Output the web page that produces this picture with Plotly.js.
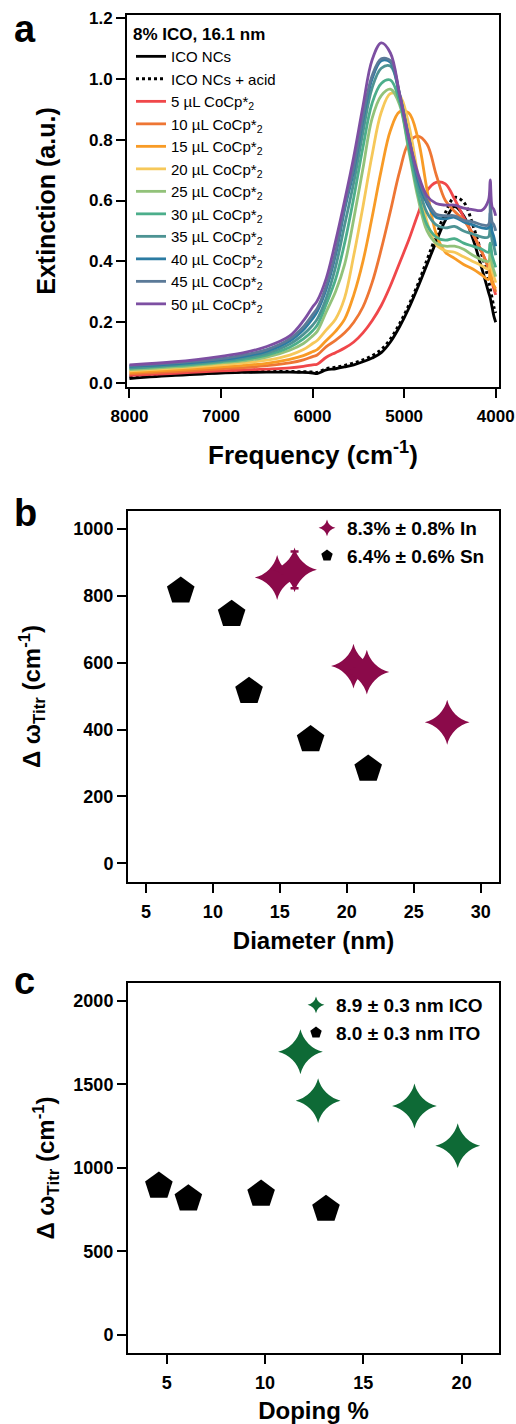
<!DOCTYPE html>
<html>
<head>
<meta charset="utf-8">
<script src="https://cdn.plot.ly/plotly-3.0.1.min.js"></script>
<style>html,body{margin:0;padding:0;background:#fff;}#chart{width:516px;height:1424px;}</style>
</head>
<body>
<div id="chart"></div>
<script>
// ---------- Panel a: spectra ----------
const freq = [8000, 7500, 7000, 6750, 6500, 6250, 6100, 6000, 5950, 5850, 5750, 5650, 5550, 5450, 5350, 5250, 5150, 5050, 4950, 4850, 4750, 4650, 4550, 4450, 4350, 4250, 4150, 4080, 4060, 4040, 4020, 4000];
const icoNCs = [0.015, 0.025, 0.033, 0.035, 0.036, 0.036, 0.035, 0.033, 0.031, 0.043, 0.047, 0.053, 0.060, 0.070, 0.082, 0.100, 0.135, 0.185, 0.245, 0.315, 0.390, 0.465, 0.535, 0.580, 0.550, 0.475, 0.375, 0.300, 0.280, 0.250, 0.220, 0.200];
const icoAcid = [0.020, 0.028, 0.035, 0.037, 0.038, 0.038, 0.037, 0.036, 0.035, 0.047, 0.052, 0.058, 0.066, 0.076, 0.090, 0.110, 0.145, 0.195, 0.255, 0.325, 0.405, 0.485, 0.560, 0.610, 0.595, 0.520, 0.420, 0.340, 0.310, 0.280, 0.250, 0.230];
const co5  = [0.025, 0.032, 0.040, 0.043, 0.046, 0.050, 0.055, 0.060, 0.062, 0.085, 0.100, 0.115, 0.135, 0.165, 0.205, 0.255, 0.320, 0.395, 0.470, 0.555, 0.632, 0.660, 0.655, 0.605, 0.545, 0.490, 0.430, 0.380, 0.360, 0.330, 0.310, 0.290];
const co10 = [0.030, 0.038, 0.047, 0.051, 0.057, 0.066, 0.076, 0.087, 0.092, 0.120, 0.140, 0.165, 0.200, 0.250, 0.330, 0.440, 0.565, 0.695, 0.790, 0.812, 0.785, 0.685, 0.600, 0.565, 0.535, 0.490, 0.430, 0.380, 0.370, 0.340, 0.320, 0.300];
const co15 = [0.035, 0.043, 0.053, 0.058, 0.065, 0.078, 0.090, 0.103, 0.110, 0.140, 0.170, 0.210, 0.290, 0.400, 0.545, 0.700, 0.830, 0.892, 0.888, 0.805, 0.635, 0.490, 0.430, 0.410, 0.390, 0.375, 0.355, 0.340, 0.400, 0.330, 0.320, 0.310];
const co20 = [0.040, 0.049, 0.060, 0.066, 0.075, 0.092, 0.110, 0.130, 0.140, 0.175, 0.210, 0.280, 0.420, 0.580, 0.750, 0.890, 0.952, 0.945, 0.850, 0.685, 0.530, 0.455, 0.435, 0.430, 0.415, 0.400, 0.385, 0.375, 0.430, 0.370, 0.350, 0.330];
const co25 = [0.044, 0.053, 0.066, 0.073, 0.085, 0.108, 0.130, 0.155, 0.170, 0.235, 0.300, 0.390, 0.540, 0.705, 0.870, 0.945, 0.966, 0.915, 0.765, 0.610, 0.500, 0.460, 0.450, 0.450, 0.440, 0.420, 0.405, 0.400, 0.460, 0.390, 0.370, 0.350];
const co30 = [0.048, 0.057, 0.070, 0.078, 0.092, 0.118, 0.145, 0.172, 0.190, 0.260, 0.340, 0.460, 0.610, 0.775, 0.920, 0.985, 0.996, 0.925, 0.775, 0.625, 0.520, 0.480, 0.470, 0.475, 0.460, 0.450, 0.440, 0.430, 0.460, 0.420, 0.400, 0.380];
const co35 = [0.050, 0.060, 0.073, 0.083, 0.098, 0.128, 0.160, 0.190, 0.210, 0.280, 0.380, 0.520, 0.660, 0.825, 0.970, 1.035, 1.042, 0.950, 0.805, 0.655, 0.560, 0.520, 0.510, 0.515, 0.500, 0.490, 0.480, 0.480, 0.520, 0.470, 0.450, 0.420];
const co40 = [0.055, 0.063, 0.077, 0.088, 0.105, 0.138, 0.175, 0.212, 0.235, 0.310, 0.420, 0.570, 0.700, 0.865, 1.000, 1.060, 1.055, 0.945, 0.810, 0.670, 0.590, 0.545, 0.540, 0.545, 0.530, 0.520, 0.510, 0.510, 0.560, 0.500, 0.480, 0.450];
const co45 = [0.057, 0.066, 0.080, 0.093, 0.110, 0.145, 0.185, 0.225, 0.245, 0.320, 0.430, 0.580, 0.710, 0.875, 1.010, 1.066, 1.060, 0.950, 0.805, 0.680, 0.600, 0.555, 0.550, 0.550, 0.535, 0.530, 0.520, 0.520, 0.600, 0.530, 0.520, 0.500];
const co50 = [0.060, 0.070, 0.088, 0.100, 0.120, 0.155, 0.205, 0.250, 0.270, 0.345, 0.465, 0.600, 0.745, 0.910, 1.062, 1.118, 1.085, 0.950, 0.805, 0.690, 0.615, 0.590, 0.585, 0.585, 0.575, 0.570, 0.568, 0.600, 0.668, 0.580, 0.570, 0.550];
const doseLabels = ["5", "10", "15", "20", "25", "30", "35", "40", "45", "50"];
const doseSeries = [co5, co10, co15, co20, co25, co30, co35, co40, co45, co50];
const doseColors = ["#f0474a", "#ee7634", "#f89b26", "#f6c85a", "#92c27a", "#4cae8b", "#4d9393", "#2b7ba2", "#5b7a98", "#7d4fa2"];

// ---------- Panel b ----------
const inDiam = [14.8, 16.1, 20.5, 21.5, 27.5];
const inShift = [855, 878, 590, 572, 422];
const inErr = [0, 55, 0, 0, 0];
const snDiam = [7.6, 11.4, 12.7, 17.3, 21.6];
const snShift = [815, 745, 515, 370, 282];

// ---------- Panel c ----------
const icoDoping = [11.8, 12.7, 17.6, 19.8];
const icoShift = [1695, 1402, 1370, 1132];
const icoErr = [50, 0, 0, 0];
const itoDoping = [4.6, 6.1, 9.8, 13.1];
const itoShift = [891, 814, 842, 752];

const FONT = "Liberation Sans, Arial, sans-serif";
const traces = [];
traces.push({x: freq, y: icoNCs, type: "scatter", mode: "lines", name: "ICO NCs",
  line: {color: "#000000", width: 2.8, shape: "spline", smoothing: 1}, xaxis: "x", yaxis: "y", legend: "legend"});
traces.push({x: freq, y: icoAcid, type: "scatter", mode: "lines", name: "ICO NCs + acid",
  line: {color: "#000000", width: 3, dash: "dot", shape: "spline", smoothing: 1}, xaxis: "x", yaxis: "y", legend: "legend"});
doseSeries.forEach((s, i) => {
  traces.push({x: freq, y: s, type: "scatter", mode: "lines",
    name: doseLabels[i] + " µL CoCp*<sub>2</sub>",
    line: {color: doseColors[i], width: 2.8, shape: "spline", smoothing: 1},
    xaxis: "x", yaxis: "y", legend: "legend"});
});

traces.push({x: inDiam, y: inShift, type: "scatter", mode: "markers", name: "8.3% ± 0.8% In",
  marker: {symbol: "star-diamond", size: 32, color: "#8b0a4a"},
  error_y: {type: "data", array: inErr, visible: true, color: "#8b0a4a", thickness: 2.5, width: 4},
  xaxis: "x2", yaxis: "y2", legend: "legend2"});
traces.push({x: snDiam, y: snShift, type: "scatter", mode: "markers", name: "6.4% ± 0.6% Sn",
  marker: {symbol: "pentagon", size: 29, color: "#000000"},
  xaxis: "x2", yaxis: "y2", legend: "legend2"});

traces.push({x: icoDoping, y: icoShift, type: "scatter", mode: "markers", name: "8.9 ± 0.3 nm ICO",
  marker: {symbol: "star-diamond", size: 32, color: "#0e6a36"},
  error_y: {type: "data", array: icoErr, visible: true, color: "#0e6a36", thickness: 2.5, width: 4},
  xaxis: "x3", yaxis: "y3", legend: "legend3"});
traces.push({x: itoDoping, y: itoShift, type: "scatter", mode: "markers", name: "8.0 ± 0.3 nm ITO",
  marker: {symbol: "pentagon", size: 29, color: "#000000"},
  xaxis: "x3", yaxis: "y3", legend: "legend3"});

const W = 516, H = 1424;
const px = v => v / W;
const py = v => 1 - v / H;

function axis(extra) {
  return Object.assign({
    showline: true, mirror: true, linecolor: "#000", linewidth: 2,
    ticks: "outside", ticklen: 9, tickwidth: 2, tickcolor: "#000",
    showgrid: false, zeroline: false,
    tickfont: {family: FONT, size: 18, color: "#000", weight: "bold"}
  }, extra);
}

const layout = {
  width: W, height: H,
  margin: {l: 0, r: 0, t: 0, b: 0},
  paper_bgcolor: "#fff", plot_bgcolor: "#fff",
  font: {family: FONT, color: "#000"},
  xaxis: axis({domain: [px(127), px(499)], range: [8027, 3964], tickvals: [8000, 7000, 6000, 5000, 4000],
    tickfont: {family: FONT, size: 17, color: "#000", weight: "bold"}, anchor: "y", ticklabelstandoff: 4,
    title: {text: "Frequency (cm<sup>-1</sup>)", font: {family: FONT, size: 26, weight: "bold"}, standoff: 20}}),
  yaxis: axis({domain: [py(387), py(15)], range: [-0.013, 1.21], tickvals: [0, 0.2, 0.4, 0.6, 0.8, 1.0, 1.2], tickformat: ".1f",
    tickfont: {family: FONT, size: 17, color: "#000", weight: "bold"}, anchor: "x",
    title: {text: "Extinction (a.u.)", font: {family: FONT, size: 25, weight: "bold"}, standoff: 26}}),
  xaxis2: axis({domain: [px(128), px(499)], range: [3.66, 31.37], tickvals: [5, 10, 15, 20, 25, 30], anchor: "y2", ticklabelstandoff: 3,
    title: {text: "Diameter (nm)", font: {family: FONT, size: 24, weight: "bold"}, standoff: 12}}),
  yaxis2: axis({domain: [py(882), py(511)], range: [-56, 1054], tickvals: [0, 200, 400, 600, 800, 1000], anchor: "x2",
    title: {text: "Δ ω<sub>Titr</sub> (cm<sup>-1</sup>)", font: {family: FONT, size: 24, weight: "bold"}, standoff: 26}}),
  xaxis3: axis({domain: [px(128), px(499)], range: [3.03, 21.9], tickvals: [5, 10, 15, 20], anchor: "y3", ticklabelstandoff: 3,
    title: {text: "Doping %", font: {family: FONT, size: 24, weight: "bold"}, standoff: 13}}),
  yaxis3: axis({domain: [py(1353), py(983)], range: [-110, 2107], tickvals: [0, 500, 1000, 1500, 2000], anchor: "x3",
    title: {text: "Δ ω<sub>Titr</sub> (cm<sup>-1</sup>)", font: {family: FONT, size: 24, weight: "bold"}, standoff: 12}}),
  legend: {x: px(131), y: py(18), xanchor: "left", yanchor: "top", bgcolor: "rgba(0,0,0,0)",
    font: {family: FONT, size: 15, color: "#000"}, tracegroupgap: 0,
    title: {text: "8% ICO, 16.1 nm", font: {family: FONT, size: 17, weight: "bold"}}},
  legend2: {x: px(307), y: py(509), xanchor: "left", yanchor: "top", bgcolor: "rgba(0,0,0,0)", itemsizing: "constant",
    font: {family: FONT, size: 19, color: "#000", weight: "bold"}},
  legend3: {x: px(296), y: py(986), xanchor: "left", yanchor: "top", bgcolor: "rgba(0,0,0,0)", itemsizing: "constant",
    font: {family: FONT, size: 19, color: "#000", weight: "bold"}},
  showlegend: true,
  annotations: [
    {text: "a", xref: "paper", yref: "paper", x: px(12), y: py(6), xanchor: "left", yanchor: "top", showarrow: false,
      font: {family: FONT, size: 38, weight: "bold", color: "#000"}},
    {text: "b", xref: "paper", yref: "paper", x: px(12), y: py(490), xanchor: "left", yanchor: "top", showarrow: false,
      font: {family: FONT, size: 38, weight: "bold", color: "#000"}},
    {text: "c", xref: "paper", yref: "paper", x: px(12), y: py(958), xanchor: "left", yanchor: "top", showarrow: false,
      font: {family: FONT, size: 38, weight: "bold", color: "#000"}}
  ]
};

Plotly.newPlot("chart", traces, layout, {staticPlot: true, displayModeBar: false});
</script>
</body>
</html>
